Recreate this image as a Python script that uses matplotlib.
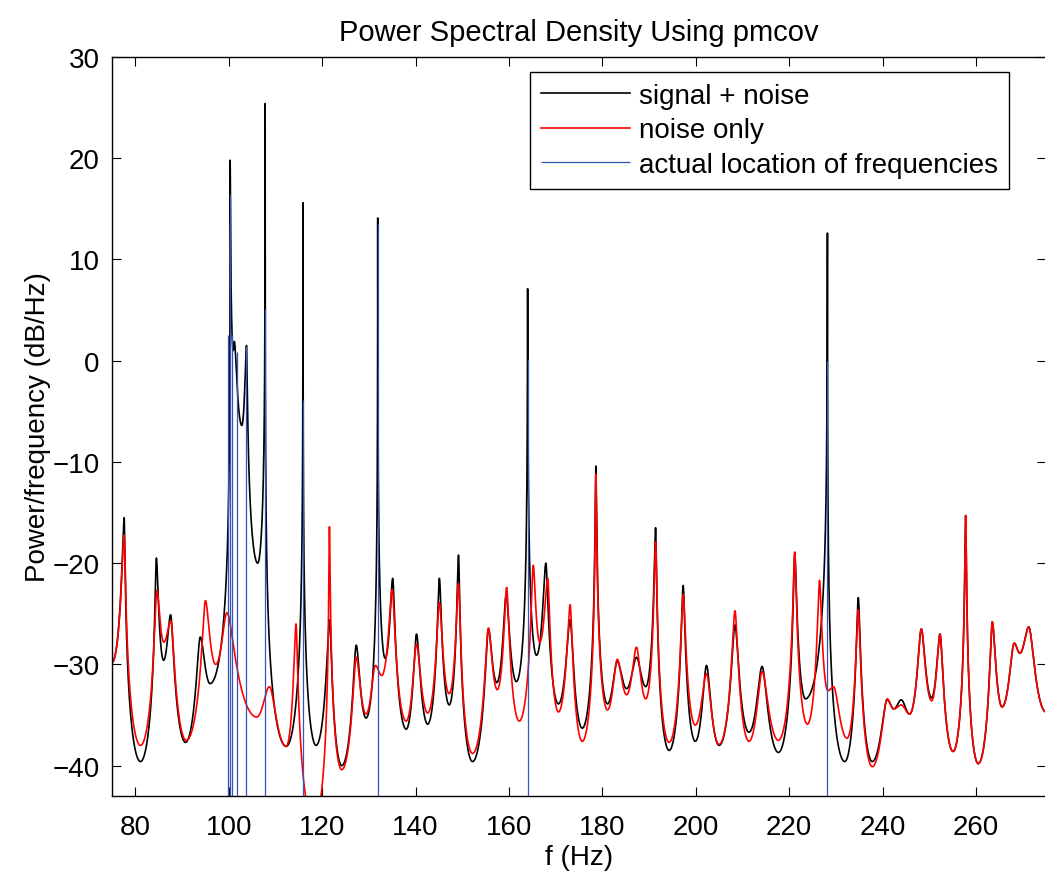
#!/usr/bin/env python3
"""Power spectral density (pmcov) : signal + noise vs noise only, with true tone locations."""

import numpy as np
import matplotlib

matplotlib.use("Agg")
import matplotlib.pyplot as plt

# local extrema of the traces (Hz, dB/Hz), alternating trough / peak
sig_f = [75.0, 77.6, 81.1, 84.5, 86.05, 87.55, 90.75, 93.9, 96.0, 100.3, 100.95, 101.2,
         102.8, 103.8, 106.2, 107.8, 112.3, 115.9, 118.7, 121.6, 124.2, 127.3, 129.4,
         131.9, 133.5, 135.1, 138.0, 140.2, 142.6, 145.1, 147.2, 149.2, 152.2, 155.6,
         157.4, 159.4, 161.6, 164.0, 165.9, 167.9, 170.6, 173.1, 175.7, 178.6, 181.1,
         183.2, 185.2, 187.3, 189.3, 191.4, 194.3, 197.3, 199.9, 202.3, 205.0, 208.4,
         211.4, 214.2, 217.7, 221.2, 223.5, 228.2, 231.9, 234.8, 237.8, 241.0, 242.4,
         244.0, 245.8, 248.3, 250.5, 252.3, 255.1, 257.8, 260.5, 263.5, 265.6, 268.2,
         269.4, 271.3, 275.0]
sig_db = [-29.8, -15.5, -39.6, -19.5, -29.6, -25.1, -37.7, -27.3, -31.9, 19.8, 1.0, 1.9,
          -6.4, 1.5, -20.0, 25.4, -38.1, 15.6, -38.0, -25.6, -40.0, -28.1, -35.3,
          14.1, -29.4, -21.5, -36.4, -27.0, -35.9, -21.5, -34.0, -19.2, -39.6, -26.5,
          -31.8, -23.1, -31.7, 7.1, -29.1, -20.0, -33.9, -25.6, -36.3, -10.4, -33.9,
          -29.7, -32.4, -29.3, -32.2, -16.5, -38.5, -22.2, -37.6, -30.1, -38.0, -26.1,
          -36.7, -30.2, -38.7, -19.1, -33.4, 12.6, -39.6, -23.4, -39.6, -33.5, -34.4,
          -33.5, -34.9, -26.5, -33.3, -27.0, -38.6, -15.3, -39.8, -25.8, -34.2, -27.9,
          -28.9, -26.3, -34.7]

noise_f = [75.0, 77.6, 81.1, 84.6, 86.1, 87.6, 90.9, 95.0, 97.2, 99.6, 106.0, 108.7,
           112.3, 114.4, 118.2, 121.55, 124.2, 127.3, 129.4, 131.4, 132.75, 135.0, 138.0,
           140.2, 142.6, 145.1, 147.2, 149.2, 152.2, 155.6, 157.5, 159.5, 162.2, 165.2,
           166.6, 168.3, 170.6, 173.1, 175.7, 178.6, 181.1, 183.2, 185.2, 187.3, 189.3,
           191.4, 194.3, 197.3, 199.9, 202.3, 205.0, 208.4, 211.4, 214.2, 217.7, 221.2,
           223.9, 226.5, 228.3, 229.5, 232.4, 234.8, 237.8, 241.0, 242.4, 244.0, 245.8,
           248.3, 250.5, 252.3, 255.1, 257.8, 260.5, 263.5, 265.6, 268.2, 269.4, 271.3,
           275.0]
noise_db = [-29.8, -17.2, -38.0, -22.7, -27.8, -25.7, -37.5, -23.7, -30.0, -24.9, -35.2, -32.2,
            -38.1, -26.0, -45.5, -16.4, -40.4, -29.3, -34.9, -30.1, -31.1, -22.6, -35.6,
            -28.0, -34.8, -23.9, -32.9, -22.0, -38.8, -26.4, -32.5, -22.4, -35.6, -20.2,
            -27.8, -21.5, -34.7, -24.1, -37.6, -11.2, -34.5, -29.5, -33.0, -28.3, -33.4,
            -17.9, -37.7, -23.1, -36.0, -30.9, -37.9, -24.7, -37.6, -30.7, -37.5, -18.9,
            -35.9, -21.7, -32.6, -32.2, -37.3, -24.6, -40.1, -33.4, -34.4, -34.0, -34.9,
            -26.5, -33.6, -27.0, -38.6, -15.3, -39.8, -25.8, -34.2, -27.9, -28.9, -26.3,
            -34.7]

# actual tone locations and the level their markers reach
tone_f = [99.85, 100.2, 100.6, 101.8, 103.8, 107.8, 115.9, 131.9, 164.0, 228.1]
tone_top = [2.5, 16.5, 2.5, 0.9, 1.5, 5.1, -3.9, 13.5, 0.2, 0.0]


def trace(ext_f, ext_db, n=500):
    """Draw resonance-shaped lobes between consecutive extrema."""
    s = np.concatenate(([0.0], np.geomspace(1e-6, 1.0, n)))
    q = np.sin(0.5 * np.pi * s)
    fs, ys = [], []
    for i in range(len(ext_f) - 1):
        f0, f1, y0, y1 = ext_f[i], ext_f[i + 1], ext_db[i], ext_db[i + 1]
        if y0 >= y1:
            fp, P, ft, T = f0, y0, f1, y1
        else:
            fp, P, ft, T = f1, y1, f0, y0
        drop = max(P - T, 1e-3)
        eps = 1.0 / np.sqrt(10 ** (drop / 10) - 1)
        h = np.log1p((q / eps) ** 2) / np.log1p(1 / eps ** 2)
        f = fp + (ft - fp) * s
        y = P - drop * h
        order = np.argsort(f)
        f, y = f[order], y[order]
        if fs:
            f, y = f[1:], y[1:]
        fs.append(f)
        ys.append(y)
    return np.concatenate(fs), np.concatenate(ys)


plt.rcParams.update({"font.family": ["Liberation Sans", "DejaVu Sans"], "font.size": 20})

fig = plt.figure(figsize=(10.45, 8.78), dpi=100)
ax = fig.add_axes([112 / 1045, 81 / 878, 934 / 1045, 739 / 878])

ylo, yhi = -43, 30
fx, fy = trace(sig_f, sig_db)
ax.plot(fx, fy, color="black", lw=1.2, label="signal + noise")
nx, ny = trace(noise_f, noise_db)
ax.plot(nx, ny, color="#ff0000", lw=1.2, label="noise only")
ax.vlines(tone_f, ylo - 5, tone_top, color="#3355b5", lw=0.9,
          label="actual location of frequencies")

ax.set_xlim(75, 275)
ax.set_ylim(ylo, yhi)
ax.set_xticks(np.arange(80, 261, 20))
ax.set_yticks(np.arange(-40, 31, 10))
ax.tick_params(direction="in", length=6.5, width=0.8, top=True, right=True)
ax.tick_params(axis="x", pad=13)
ax.tick_params(axis="y", pad=9)
for sp in ax.spines.values():
    sp.set_linewidth(1.0)

ax.set_title("Power Spectral Density Using pmcov", fontsize=21, pad=12)
ax.set_xlabel("f (Hz)", labelpad=3)
ax.set_ylabel("Power/frequency (dB/Hz)", labelpad=1)

leg = ax.legend(loc="upper right", bbox_to_anchor=(0.960, 0.980), fancybox=False,
                framealpha=1, edgecolor="black", handlelength=3.2, handletextpad=0.3,
                labelspacing=0.3, borderpad=0.4, borderaxespad=0)
leg.get_frame().set_linewidth(1.0)

fig.savefig("out.png", dpi=100)
